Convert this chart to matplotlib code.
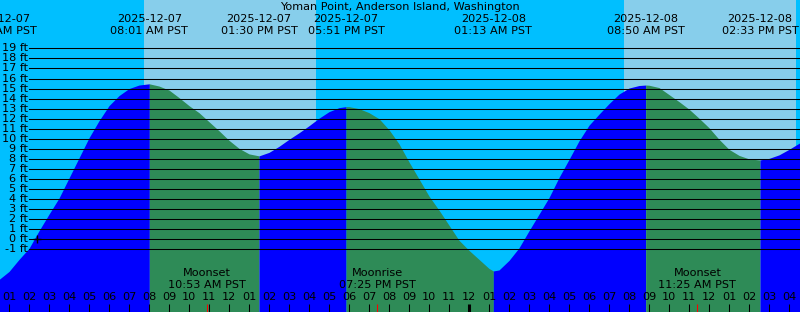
import matplotlib
matplotlib.use("Agg")
import matplotlib.pyplot as plt
import matplotlib.transforms as mtransforms
import numpy as np

# hours since 2025-12-07 00:00 PST
sample_hours = np.arange(0, 41.5, 0.5)
sample_heights = [
    -3.9, -4.0, -3.2, -2.0, -0.9, 0.85, 2.5, 4.1, 6.1, 8.1,
    10.1, 11.8, 13.3, 14.3, 15.0, 15.35, 15.47, 15.25, 14.85, 14.1,
    13.3, 12.6, 11.7, 10.8, 9.85, 9.05, 8.5, 8.3, 8.65, 9.25,
    9.95, 10.6, 11.3, 12.05, 12.7, 13.1, 13.2, 13.0, 12.6, 12.0,
    10.9, 9.5, 7.7, 6.0, 4.3, 2.9, 1.4, -0.1, -1.1, -2.0,
    -2.9, -3.05, -2.1, -0.85, 0.85, 2.5, 4.15, 6.15, 7.95, 9.8,
    11.35, 12.45, 13.5, 14.45, 15.05, 15.3, 15.33, 15.1, 14.4, 13.7,
    12.95, 12.05, 11.1, 9.95, 8.95, 8.35, 8.0, 7.9, 8.05, 8.4,
    8.95, 9.55, 10.2,
]

extreme_hours = [0.45, 8.017, 13.5, 17.85, 25.217, 32.833, 38.55]
extreme_heights = [-4.0, 15.47, 8.3, 13.2, -3.15, 15.35, 7.9]
extreme_dates = ["2025-12-07", "2025-12-07", "2025-12-07", "2025-12-07",
                 "2025-12-08", "2025-12-08", "2025-12-08"]
extreme_times = ["12:27 AM PST", "08:01 AM PST", "01:30 PM PST", "05:51 PM PST",
                 "01:13 AM PST", "08:50 AM PST", "02:33 PM PST"]

sunrise_hours = [7.75, 31.75]
sunset_hours = [16.35, 40.35]

moon_hours = [10.883, 19.417, 35.417]
moon_names = ["Moonset", "Moonrise", "Moonset"]
moon_times = ["10:53 AM PST", "07:25 PM PST", "11:25 AM PST"]

grid_feet = list(range(-1, 20))
now_hour = 2.4
title = "Yoman Point, Anderson Island, Washington"

NIGHT = "#00bfff"
DAY = "#87ceeb"
FLOOD = "#0000ff"
EBB = "#2e8b57"

W, H = 800, 312
PX_PER_HOUR = 20.0
X0 = -11.0           # pixel of hour 0
Y_ZERO = 239.3       # pixel of 0 ft
PX_PER_FT = 10.05
FS = 8.1


def hour_from_px(px):
    return (px - X0) / PX_PER_HOUR


def ft_from_px(py):
    return (Y_ZERO - py) / PX_PER_FT


fig = plt.figure(figsize=(W / 100, H / 100), dpi=100)
ax = fig.add_axes([0, 0, 1, 1])
ax.set_axis_off()
ax.set_xlim(hour_from_px(0), hour_from_px(W))
ax.set_ylim(ft_from_px(H), ft_from_px(0))
ymin, ymax = ax.get_ylim()

# sky
ax.axvspan(-5, 50, color=NIGHT, lw=0, zorder=0)
for a, b in zip(sunrise_hours, sunset_hours):
    ax.axvspan(a, b, color=DAY, lw=0, zorder=0)

# water, blue while rising, green while falling
t_all = np.concatenate([sample_hours, extreme_hours])
h_all = np.concatenate([sample_heights, extreme_heights])
order = np.argsort(t_all, kind="stable")
t_all, h_all = t_all[order], h_all[order]

bounds = [-1.0] + extreme_hours + [42.0]
for i in range(len(bounds) - 1):
    a, b = bounds[i], bounds[i + 1]
    m = (t_all >= a) & (t_all <= b)
    if i == 0:
        col = EBB
    elif i == len(bounds) - 2:
        col = FLOOD if extreme_heights[-1] < extreme_heights[-2] else EBB
    else:
        col = FLOOD if extreme_heights[i - 1] < extreme_heights[i] else EBB
    ax.fill_between(t_all[m], ymin, h_all[m], color=col, lw=0, zorder=1)

# height lines
for ft in grid_feet:
    ax.axhline(ft, xmin=29.3 / W, xmax=1, color="black", lw=0.75, zorder=2)
    ax.text(hour_from_px(27.5), ft, f"{ft} ft", ha="right", va="center",
            fontsize=FS, zorder=3)

ax.plot([now_hour], [0], marker="+", color="black", ms=6, mew=1.0, zorder=3)

# text positioned by pixel row
trans = mtransforms.blended_transform_factory(ax.transData, fig.transFigure)


def yrow(py):
    return 1 - py / H


fig.text(0.5, yrow(7.5), title, ha="center", va="center", fontsize=FS)

for t, d, s in zip(extreme_hours, extreme_dates, extreme_times):
    ax.text(t, yrow(19.5), d, transform=trans, ha="center", va="center",
            fontsize=FS, zorder=4)
    ax.text(t, yrow(31.5), s, transform=trans, ha="center", va="center",
            fontsize=FS, zorder=4)

# hour ticks
for hr in range(1, 41):
    lab = f"{(hr - 1) % 12 + 1:02d}"
    ax.text(hr, yrow(297.5), lab, transform=trans, ha="center", va="center",
            fontsize=FS, zorder=4)
    lw = 2.2 if hr % 24 == 0 else 0.75
    ax.plot([hr, hr], [yrow(303.5), 0], transform=trans, color="black",
            lw=lw, zorder=4, solid_capstyle="butt")

for t, n, s in zip(moon_hours, moon_names, moon_times):
    ax.text(t, yrow(273.5), n, transform=trans, ha="center", va="center",
            fontsize=FS, zorder=4)
    ax.text(t, yrow(285), s, transform=trans, ha="center", va="center",
            fontsize=FS, zorder=4)
    ax.plot([t, t], [yrow(303.5), 0], transform=trans, color="red",
            lw=0.75, zorder=5, solid_capstyle="butt")

fig.savefig("out.png", dpi=100)
